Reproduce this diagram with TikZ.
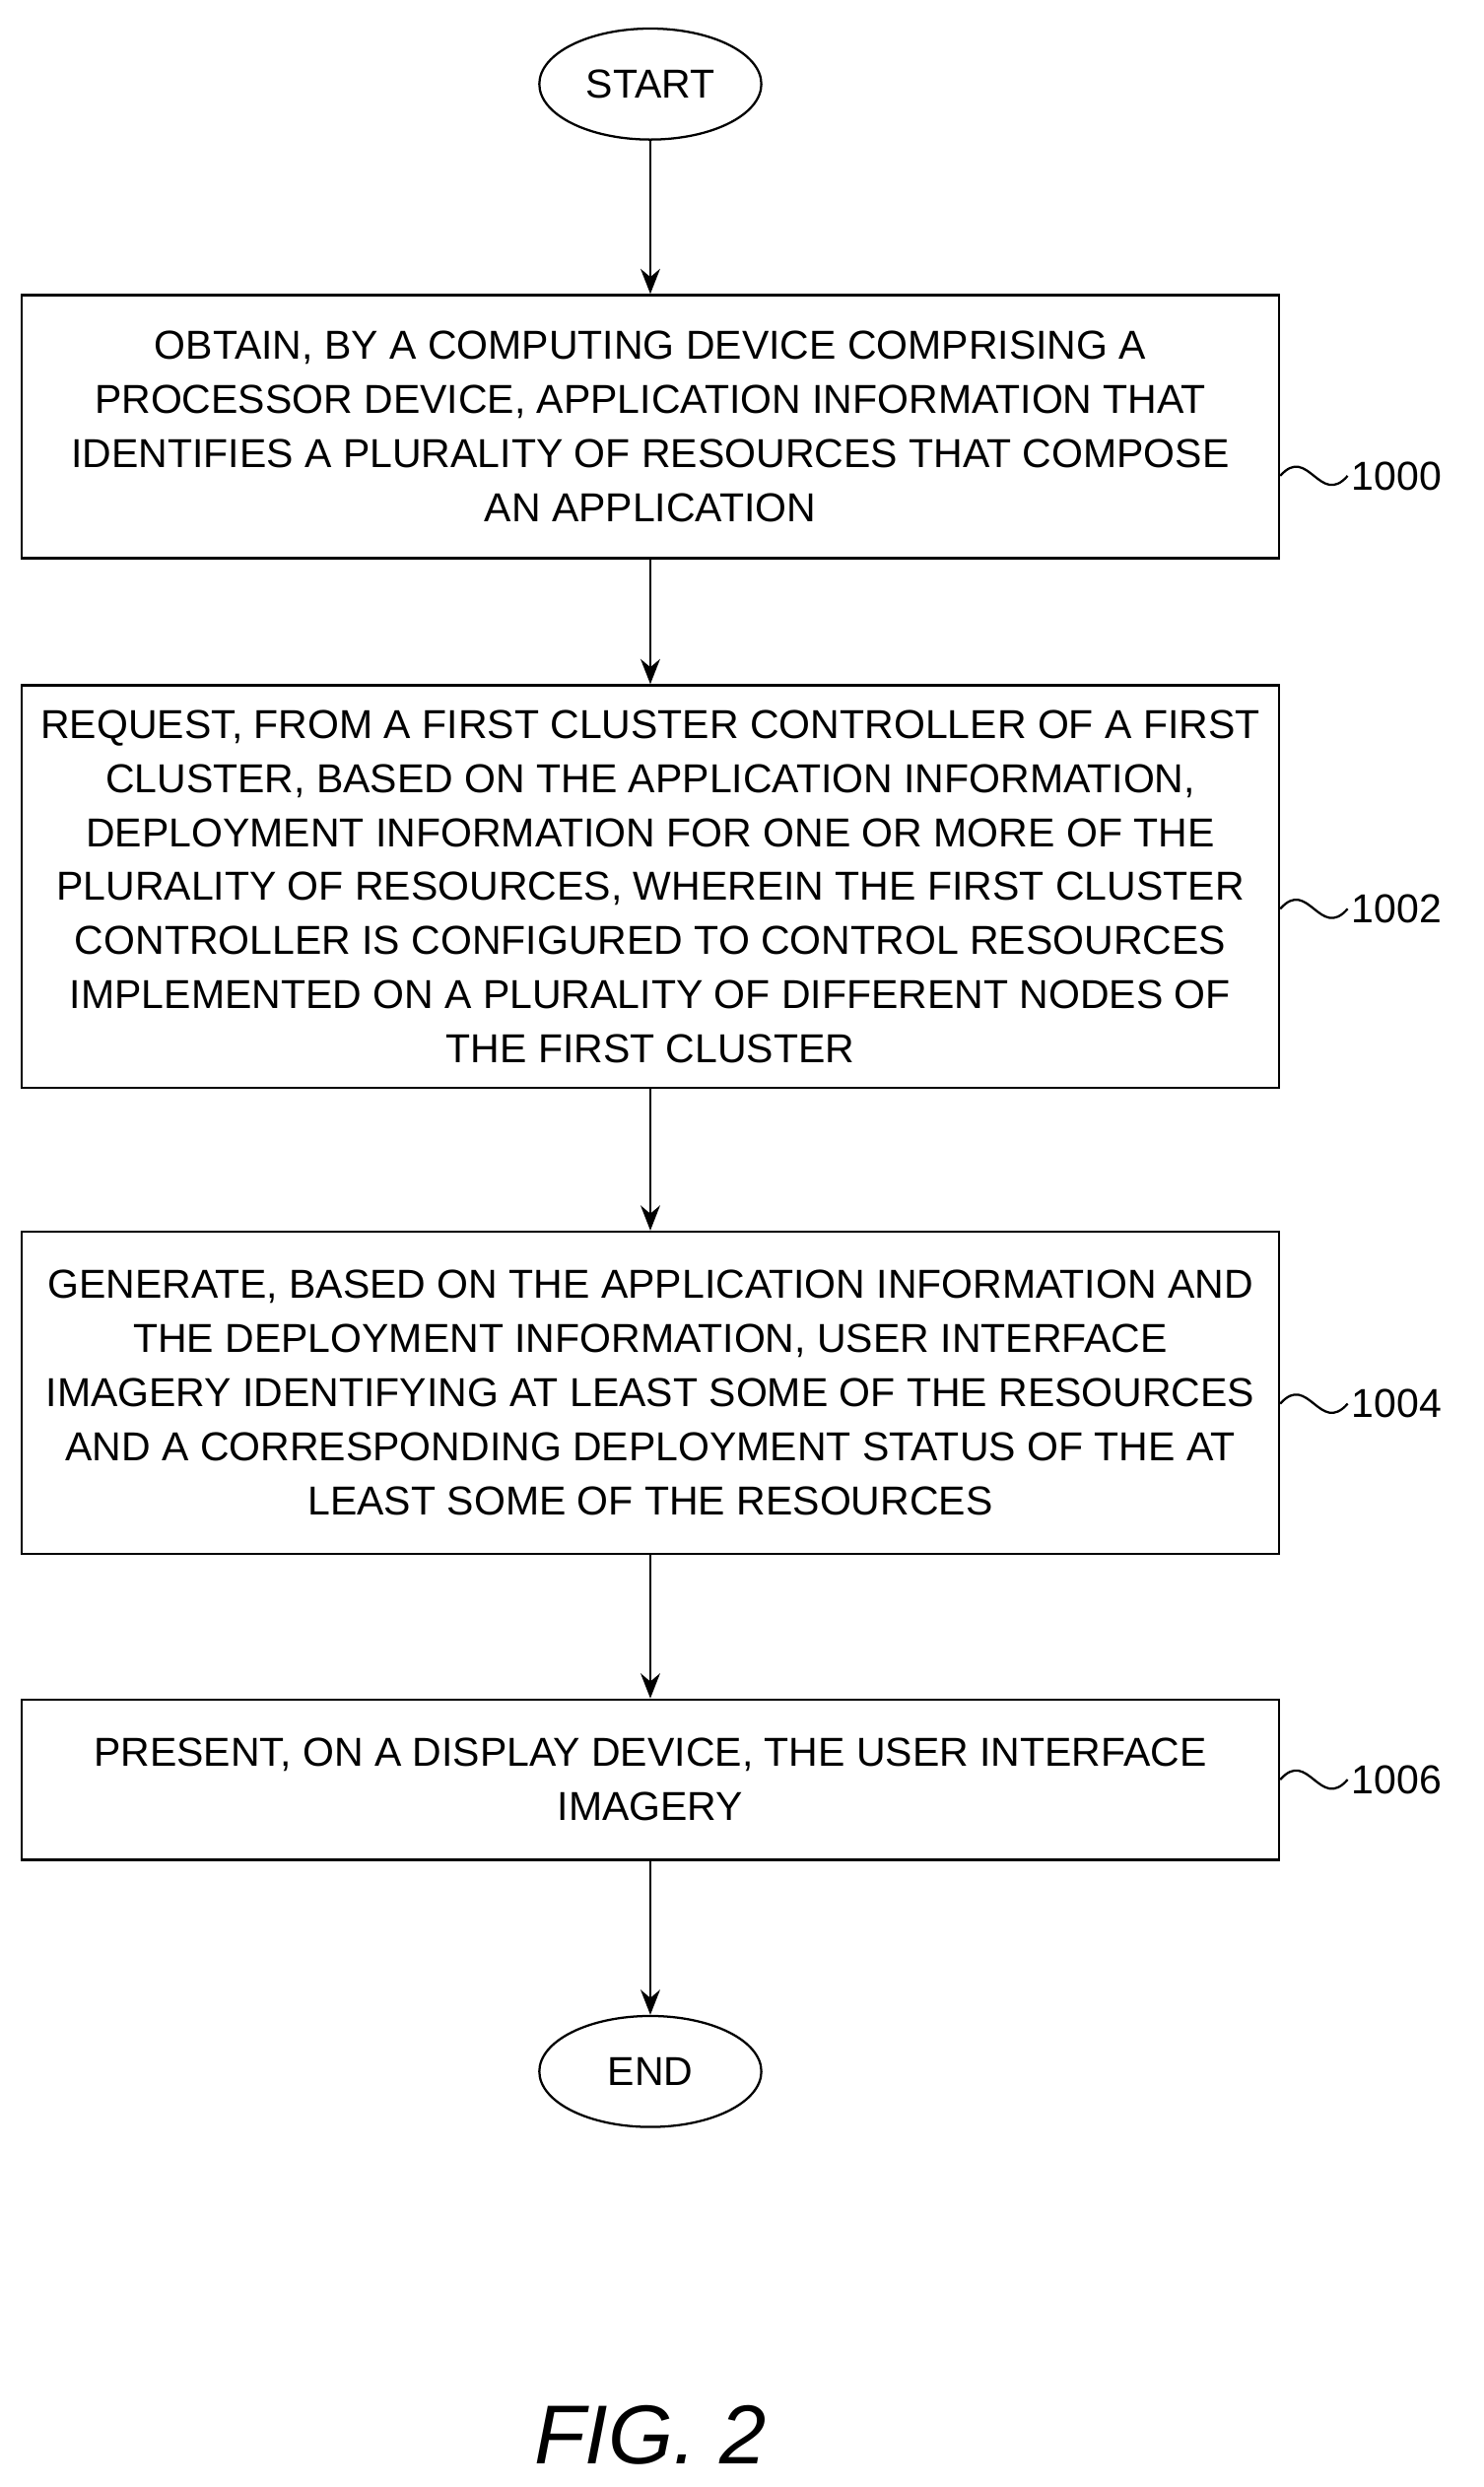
\documentclass[tikz,border=0pt]{standalone}
\usepackage{fontspec}
\setmainfont{Liberation Sans}
\usetikzlibrary{shapes.geometric,arrows.meta}
\tikzset{
  flowbox/.style={draw, thick, minimum width=15.86cm, align=center,
    font=\fontsize{14.5}{19.4}\selectfont, inner sep=0pt},
  term/.style={draw, thick, ellipse, minimum width=2.8cm, minimum height=1.4cm,
    font=\fontsize{14.5}{16}\selectfont},
  flow/.style={thick, -{Stealth[length=9pt,width=7pt]}},
  refnum/.style={font=\fontsize{14.5}{16}\selectfont, anchor=west, inner sep=1pt},
}
\newcommand{\squig}[2]{\draw[thick] (#1) .. controls +(0.35cm,0.4cm) and +(-0.35cm,-0.4cm) .. ++(0.85cm,0) node[refnum]{#2};}
\begin{document}
\begin{tikzpicture}[x=0.02cm,y=-0.02cm]
  \useasboundingbox (0,0) rectangle (935,1568);
  \node[term] (start) at (410,53) {START};
  \node[flowbox, minimum height=3.32cm] (obtain) at (410,269) {OBTAIN, BY A COMPUTING DEVICE COMPRISING A\\PROCESSOR DEVICE, APPLICATION INFORMATION THAT\\IDENTIFIES A PLURALITY OF RESOURCES THAT COMPOSE\\AN APPLICATION};
  \node[flowbox, minimum height=5.08cm] (request) at (410,559) {REQUEST, FROM A FIRST CLUSTER CONTROLLER OF A FIRST\\CLUSTER, BASED ON THE APPLICATION INFORMATION,\\DEPLOYMENT INFORMATION FOR ONE OR MORE OF THE\\PLURALITY OF RESOURCES, WHEREIN THE FIRST CLUSTER\\CONTROLLER IS CONFIGURED TO CONTROL RESOURCES\\IMPLEMENTED ON A PLURALITY OF DIFFERENT NODES OF\\THE FIRST CLUSTER};
  \node[flowbox, minimum height=4.06cm] (generate) at (410,878) {GENERATE, BASED ON THE APPLICATION INFORMATION AND\\THE DEPLOYMENT INFORMATION, USER INTERFACE\\IMAGERY IDENTIFYING AT LEAST SOME OF THE RESOURCES\\AND A CORRESPONDING DEPLOYMENT STATUS OF THE AT\\LEAST SOME OF THE RESOURCES};
  \node[flowbox, minimum height=2.02cm] (present) at (410,1122) {PRESENT, ON A DISPLAY DEVICE, THE USER INTERFACE\\IMAGERY};
  \node[term] (end) at (410,1306) {END};
  \node[font=\fontsize{30}{34}\itshape] (fig) at (410,1535) {FIG. 2};

  \draw[flow] (start) -- (obtain);
  \draw[flow] (obtain) -- (request);
  \draw[flow] (request) -- (generate);
  \draw[flow] (generate) -- (present);
  \draw[flow] (present) -- (end);

  \coordinate (s0) at (obtain.east |- 0,300);
  \coordinate (s1) at (request.east |- 0,573);
  \coordinate (s2) at (generate.east |- 0,885);
  \coordinate (s3) at (present.east |- 0,1122);
  \squig{s0}{1000}
  \squig{s1}{1002}
  \squig{s2}{1004}
  \squig{s3}{1006}
\end{tikzpicture}
\end{document}
